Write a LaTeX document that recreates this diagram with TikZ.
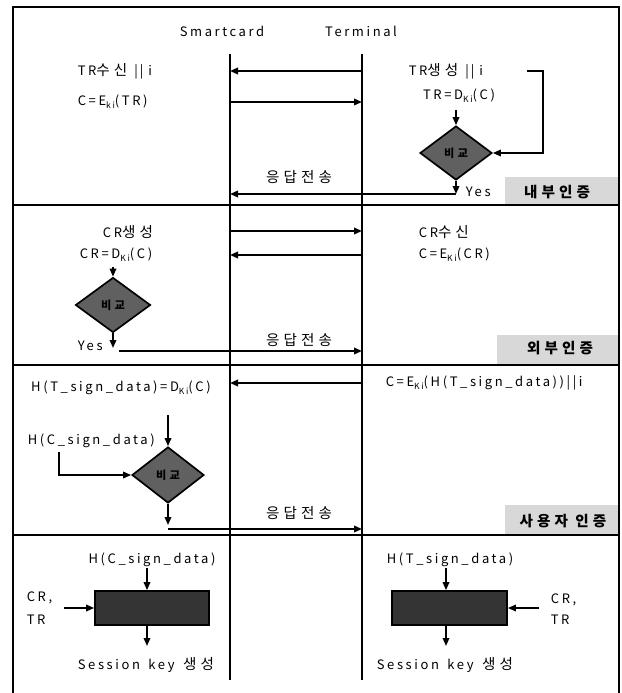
\documentclass[tikz,border=0pt]{standalone}
\usepackage{fontspec}
\setmainfont{Noto Sans CJK KR}[LetterSpace=20]
\newfontfamily\kr{Noto Sans CJK KR}[Scale=1.12,LetterSpace=28]
\usetikzlibrary{arrows.meta,shapes.geometric}
\newcommand\ksub[1]{\raisebox{-0.45ex}{\fontsize{8.5}{8.5}\selectfont #1}}
\newcommand\bars{\hspace{7pt}|\hspace{2pt}|\hspace{5pt}i}
\definecolor{darkfill}{RGB}{96,96,96}
\definecolor{keyfill}{RGB}{52,52,52}
\definecolor{boxfill}{RGB}{216,216,216}
\begin{document}
\begin{tikzpicture}[x=1pt,y=-1pt,line width=1.7pt,
  >={Triangle[length=8pt,width=6.5pt]},
  every node/.style={inner sep=0pt,font=\fontsize{13}{15}\selectfont},
  txt/.style={},
  tagtxt/.style={font=\fontsize{13}{15}\selectfont\kr\bfseries},
  tagbox/.style={rectangle,fill=boxfill,draw=none},
  decision/.style={diamond,draw,fill=darkfill,minimum width=72pt,minimum height=54pt,font=\fontsize{10}{12}\selectfont\kr\bfseries,text=black},
  keybox/.style={rectangle,draw,fill=keyfill,minimum width=114pt,minimum height=34pt},
  flow/.style={->}]
\useasboundingbox (0,0) rectangle (621,693);
% label boxes (under lines)
\node[tagbox,minimum width=114pt,minimum height=28pt] (tag1) at (562,191) {};
\node[tagbox,minimum width=122pt,minimum height=30pt] (tag2) at (558,350) {};
\node[tagbox,minimum width=114pt,minimum height=30pt] (tag3) at (562,520) {};
% frame and dividers
\draw (13,700) -- (13,7) -- (619,7) -- (619,700);
\draw (13,205) -- (619,205);
\draw (13,365) -- (619,365);
\draw (13,535) -- (619,535);
% header and lifelines
\node[txt] (hsc) at (222,31) {Smartcard};
\node[txt] (hte) at (361,31) {Terminal};
\coordinate (sc0) at (230,54); \coordinate (sc1) at (230,680);
\coordinate (te0) at (362,54); \coordinate (te1) at (362,680);
\draw (sc0) -- (sc1);
\draw (te0) -- (te1);
% ---------- section 1
\node[txt,anchor=west] (trr) at (77,71) {TR{\kr 수신}\bars};
\node[txt,anchor=west] (cek1) at (77,102) {C=E\ksub{ki}(TR)};
\coordinate (a1s) at (362,71); \coordinate (a1e) at (230,71);
\draw[flow] (a1s) -- (a1e);
\coordinate (a2s) at (230,102); \coordinate (a2e) at (362,102);
\draw[flow] (a2s) -- (a2e);
\node[txt,anchor=west] (trg) at (408,71) {TR{\kr 생성}\bars};
\node[txt] (trd) at (459,96) {TR=D\ksub{Ki}(C)};
\node[decision] (d1) at (456,153) {비교};
\coordinate (fb0) at (527,71); \coordinate (fb1) at (543,71);
\draw[flow] (fb0) -- (fb1) |- (d1.east);
\coordinate (d1in) at (456,110);
\draw[flow] (d1in) -- (d1.north);
\coordinate (y1) at (456,194);
\draw[flow] (d1.south) -- (y1);
\node[txt,anchor=west] (yes1) at (465,192) {Yes};
\coordinate (r1e) at (230,194);
\draw[flow] (y1) -- (r1e);
\node[txt] (rsp1) at (299,177) {\kr 응답전송};
\node[tagtxt] (tag1t) at (557,192) {내부인증};
% ---------- section 2
\node[txt] (crg) at (128,232) {CR{\kr 생성}};
\node[txt] (crd) at (116,255) {CR=D\ksub{Ki}(C)};
\coordinate (b1s) at (230,231); \coordinate (b1e) at (362,231);
\draw[flow] (b1s) -- (b1e);
\coordinate (b2s) at (362,255); \coordinate (b2e) at (230,255);
\draw[flow] (b2s) -- (b2e);
\node[txt,anchor=west] (crr) at (418,232) {CR{\kr 수신}};
\node[txt,anchor=west] (cer) at (418,255) {C=E\ksub{Ki}(CR)};
\node[decision,minimum width=75pt,minimum height=55pt] (d2) at (113,305) {비교};
\coordinate (d2in) at (113,267);
\draw[flow] (d2in) -- (d2.north);
\coordinate (y2) at (113,348);
\draw[flow] (d2.south) -- (y2);
\node[txt,anchor=west] (yes2) at (77,346) {Yes};
\coordinate (r2s) at (119,351); \coordinate (r2e) at (362,351);
\draw[flow] (r2s) -- (r2e);
\node[txt] (rsp2) at (299,340) {\kr 응답전송};
\node[tagtxt] (tag2t) at (560,348) {외부인증};
% ---------- section 3
\node[txt] (hts) at (121,388) {H(T\_sign\_data)=D\ksub{Ki}(C)};
\coordinate (c1s) at (362,383); \coordinate (c1e) at (230,383);
\draw[flow] (c1s) -- (c1e);
\node[txt,anchor=west] (cek3) at (385,383) {C=E\ksub{Ki}(H(T\_sign\_data))||i};
\node[txt,anchor=west] (hcs) at (27,441) {H(C\_sign\_data)};
\node[decision,minimum width=72pt,minimum height=56pt] (d3) at (168,475) {비교};
\coordinate (d3in) at (168,415);
\draw[flow] (d3in) -- (d3.north);
\coordinate (d3l) at (59,452);
\draw[flow] (d3l) |- (d3.west);
\coordinate (y3) at (168,525);
\draw[flow] (d3.south) -- (y3);
\coordinate (r3s) at (168,529); \coordinate (r3e) at (362,529);
\draw[flow] (r3s) -- (r3e);
\node[txt] (rsp3) at (299,513) {\kr 응답전송};
\node[tagtxt] (tag3t) at (563,521) {사용자 인증};
% ---------- section 4
\node[txt] (hc4) at (152,560) {H(C\_sign\_data)};
\node[keybox] (k1) at (152,608) {};
\coordinate (k1in) at (147,568);
\draw[flow] (k1in) -- (k1in |- k1.north);
\node[txt,anchor=west] (cr4) at (26,598) {CR,};
\node[txt,anchor=west] (tr4) at (26,620) {TR};
\coordinate (k1l) at (64,608);
\draw[flow] (k1l) -- (k1.west);
\coordinate (k1o) at (147,646);
\draw[flow] (k1o |- k1.south) -- (k1o);
\node[txt,anchor=west] (sk1) at (77,665) {Session\hspace{3pt} key\hspace{3pt} {\kr 생성}};
\node[txt,anchor=west] (ht4) at (386,560) {H(T\_sign\_data)};
\node[keybox,minimum width=115pt] (k2) at (449.5,608) {};
\coordinate (k2in) at (446,568);
\draw[flow] (k2in) -- (k2in |- k2.north);
\node[txt,anchor=west] (cr4r) at (550,600) {CR,};
\node[txt,anchor=west] (tr4r) at (550,620) {TR};
\coordinate (k2r) at (539,608);
\draw[flow] (k2r) -- (k2.east);
\coordinate (k2o) at (446,646);
\draw[flow] (k2o |- k2.south) -- (k2o);
\node[txt,anchor=west] (sk2) at (376,665) {Session\hspace{3pt} key\hspace{3pt} {\kr 생성}};
\end{tikzpicture}
\end{document}
